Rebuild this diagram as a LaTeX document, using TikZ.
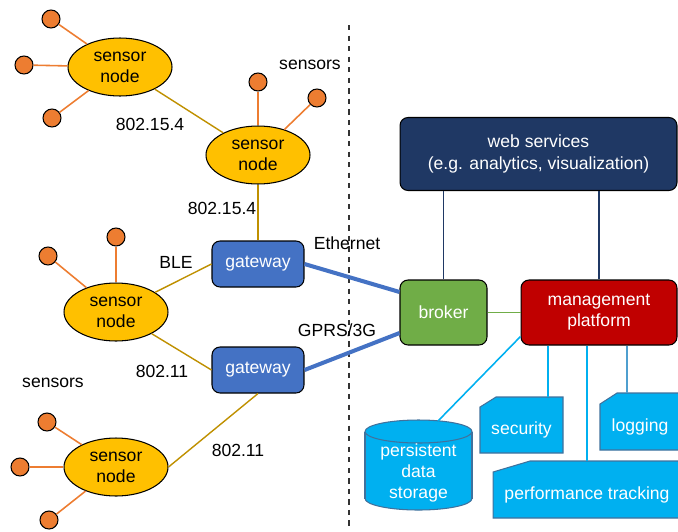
\documentclass[tikz,border=0pt]{standalone}
\usepackage{fontspec}
\setmainfont{Liberation Sans}
\usetikzlibrary{calc,shapes.geometric,backgrounds}
\definecolor{sensfill}{HTML}{FFC000}
\definecolor{dotfill}{HTML}{ED7D31}
\definecolor{wire}{HTML}{BF9000}
\definecolor{gwblue}{HTML}{4472C4}
\definecolor{brkgreen}{HTML}{70AD47}
\definecolor{mgmtred}{HTML}{C00000}
\definecolor{navy}{HTML}{1F3864}
\definecolor{svc}{HTML}{00B0F0}
\definecolor{svcedge}{HTML}{41719C}
\definecolor{steel}{HTML}{4F9FCF}
\tikzset{
  sens/.style={ellipse, draw=black, line width=0.6pt, fill=sensfill, minimum width=2.08cm, minimum height=1.16cm, inner sep=0pt, align=center},
  dot/.style={circle, draw=black, line width=0.6pt, fill=dotfill, minimum size=0.36cm, inner sep=0pt},
  stub/.style={draw=dotfill, line width=0.9pt},
  link/.style={draw=wire, line width=0.8pt},
  box/.style={rectangle, rounded corners=0.16cm, draw=black, line width=0.6pt, text=white, align=center},
  gw/.style={box, fill=gwblue, minimum width=1.84cm, minimum height=0.92cm},
  uplink/.style={draw=gwblue, line width=2.3pt},
  feed/.style={draw=navy, line width=0.8pt},
  tap/.style={draw=svc, line width=0.9pt},
  svcbox/.style={text=white, outer sep=0pt, inner sep=0pt, text height=11pt, text depth=0pt},
  snip/.style={fill=svc, draw=svcedge, line width=0.6pt},
  cut/.style={draw=black!80, dashed, line width=0.8pt},
  lab/.style={text=black},
}
\begin{document}
\begin{tikzpicture}[x=0.02cm, y=-0.02cm, font=\fontsize{10}{12}\selectfont]
  \useasboundingbox (0,0) rectangle (678,531);

  % field side / cloud side
  \coordinate (cuttop) at (349,25);
  \coordinate (cutbot) at (349,531);
  \draw[cut] (cuttop) -- (cutbot);

  % sensor nodes and their sensors
  \node[sens] (s1) at (120,67) {sensor\\node};
  \node[sens] (s2) at (258,155) {sensor\\node};
  \node[sens] (s3) at (116,312) {sensor\\node};
  \node[sens] (s4) at (116,467) {sensor\\node};

  \node[dot] (s1a) at (51,19) {};
  \node[dot] (s1b) at (24,65) {};
  \node[dot] (s1c) at (52,118) {};
  \node[dot] (s2a) at (258,82) {};
  \node[dot] (s2b) at (317,98) {};
  \node[dot] (s3a) at (48,256) {};
  \node[dot] (s3b) at (116,237) {};
  \node[dot] (s4a) at (47,422) {};
  \node[dot] (s4b) at (20,467) {};
  \node[dot] (s4c) at (49,520) {};

  \foreach \s/\n in {s1a/s1,s1b/s1,s1c/s1,s2a/s2,s2b/s2,s3a/s3,s3b/s3,s4a/s4,s4b/s4,s4c/s4}
    \draw[stub] (\s) -- (\n);

  % gateways
  \node[gw] (gw1) at (258,264) {gateway};
  \node[gw] (gw2) at (258,370) {gateway};

  \draw[link] (s1) -- (s2);
  \draw[link] (s2) -- (gw1);
  \draw[link] (s3) -- (gw1.west);
  \draw[link] (s3) -- (gw2.west);
  \draw[link] (s4.east) -- (gw2.south);

  % back end
  \node[box, fill=brkgreen, minimum width=1.74cm, minimum height=1.3cm] (brk) at (443.5,312.5) {broker};
  \node[box, fill=mgmtred, minimum width=3.12cm, minimum height=1.3cm] (mgmt) at (599,312.5) {management\\platform};
  \node[box, fill=navy, minimum width=5.54cm, minimum height=1.46cm, font=\fontsize{10}{12.8}\selectfont] (web) at (538.5,154) {web services\\(e.g. analytics, visualization)};

  \draw[uplink] (gw1.east) -- (brk.155);
  \draw[uplink] (gw2.east) -- (brk.205);
  \draw[draw=brkgreen, line width=1.1pt] (brk) -- (mgmt);
  \draw[feed] (web.south -| brk.north) -- (brk.north);
  \draw[feed] (web.south -| mgmt.north) -- (mgmt.north);

  % storage drum
  \filldraw[snip] (418.5,498.5) ellipse [x radius=53.5, y radius=11.5];
  \fill[svc] (365,431.5) rectangle (472,498.5);
  \draw[svcedge, line width=0.6pt] (365,431.5) -- (365,498.5) (472,431.5) -- (472,498.5);
  \filldraw[snip] (418.5,431.5) ellipse [x radius=53.5, y radius=11.5];
  \node[text=white, align=center, inner sep=0pt] (store) at (418.5,473) {persistent\\data\\storage};

  % services below the platform
  \node[svcbox, minimum width=1.66cm, minimum height=1.12cm] (sec) at (521.5,425) {security};
  \node[svcbox, minimum width=1.6cm, minimum height=1.14cm] (logg) at (640,421.5) {logging};
  \node[svcbox, minimum width=3.76cm, minimum height=1.14cm] (perf) at (587,489.5) {performance tracking};
  \begin{scope}[on background layer]
    \foreach \b/\cx/\cy in {sec/16/10, logg/17/11, perf/37/11}
      \path[snip] (\b.south west) -- ($(\b.north west)+(0,\cy)$) -- ($(\b.north west)+(\cx,0)$)
        -- (\b.north east) -- (\b.south east) -- cycle;
  \end{scope}

  \coordinate (storein) at (438,421);
  \coordinate (secin) at ($(sec.north east)+(-15,0)$);
  \coordinate (login) at ($(logg.north west)+(27,0)$);
  \draw[tap] (mgmt.197) -- (storein);
  \draw[tap] (mgmt.south -| secin) -- (secin);
  \draw[tap] (mgmt.south -| perf.north) -- (perf.north);
  \draw[tap, draw=steel] (mgmt.south -| login) -- (login);

  % link labels
  \node[lab] (t1) at (150,124) {802.15.4};
  \node[lab] (t2) at (310,65) {sensors};
  \node[lab] (t3) at (222,208) {802.15.4};
  \node[lab] (t4) at (347,243) {Ethernet};
  \node[lab] (t5) at (176,262) {BLE};
  \node[lab] (t6) at (337,330) {GPRS/3G};
  \node[lab] (t7) at (162,371) {802.11};
  \node[lab] (t8) at (53,383) {sensors};
  \node[lab] (t9) at (238,450) {802.11};
\end{tikzpicture}
\end{document}
